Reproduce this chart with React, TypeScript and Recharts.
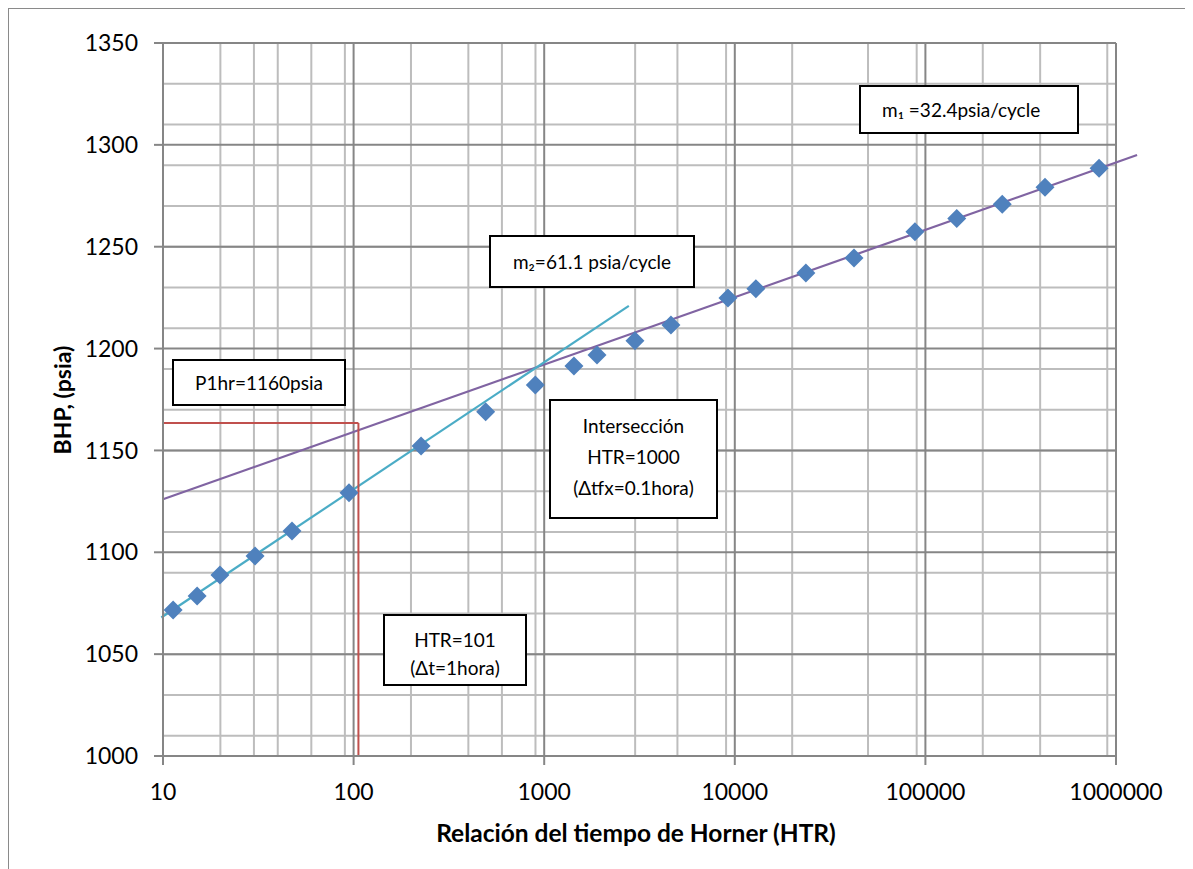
import { CartesianGrid, ReferenceLine, Scatter, ScatterChart, XAxis, YAxis } from 'recharts'

// Horner plot: ratio of times (HTR) vs bottom-hole pressure.
const HTR = [
  11.3, 15.1, 19.9, 30.4, 47.5, 94.6, 226, 493, 898, 1432, 1892, 2992, 4624, 9204, 12900, 23600,
  42200, 88100, 146000, 253000, 424000, 815000,
]
const BHP = [
  1071.7, 1078.5, 1088.8, 1098.2, 1110.4, 1129.2, 1152.2, 1169, 1182.1, 1191.4, 1196.8, 1203.9,
  1211.6, 1224.8, 1229.4, 1237.1, 1244.5, 1257.4, 1263.9, 1270.8, 1279.2, 1288.5,
]
const X_TICKS = [10, 100, 1000, 10000, 100000, 1000000]
const Y_TICKS = [1000, 1050, 1100, 1150, 1200, 1250, 1300, 1350]

// Straight-line fits drawn by hand on the original (ends).
const M1_LINE = [
  { x: 10, y: 1126 },
  { x: 1290000, y: 1295 },
]
const M2_LINE = [
  { x: 9.8, y: 1068 },
  { x: 2780, y: 1221 },
]
const P1HR = 1163.5
const HTR_1HR = 106

const FONT = 'Lato, "Open Sans", sans-serif'
const MAJOR = '#868686'
const MINOR = '#bdbdbd'
const TICK = { fill: '#000', fontSize: 23, fontFamily: FONT }

const points = HTR.map((x, i) => ({ x, y: BHP[i] }))
const minorX = X_TICKS.slice(0, -1).flatMap((d) => [2, 3, 4, 5, 6, 7, 8, 9].map((k) => k * d))
const minorY = Array.from({ length: 36 }, (_, i) => 1000 + i * 10)

function Diamond(props: any) {
  const { cx, cy } = props
  if (cx == null || cy == null) return <g />
  const r = 9.5
  return (
    <polygon
      points={`${cx},${cy - r} ${cx + r},${cy} ${cx},${cy + r} ${cx - r},${cy}`}
      fill="#4f81bd"
    />
  )
}

function Note({
  left,
  top,
  width,
  height,
  lines,
  align = 'center',
  lineHeight = 31,
  shift = 0,
}: {
  left: number
  top: number
  width: number
  height: number
  lines: string[]
  align?: 'center' | 'left'
  lineHeight?: number
  shift?: number
}) {
  return (
    <div
      style={{
        position: 'absolute',
        left,
        top,
        width,
        height,
        boxSizing: 'border-box',
        border: '2px solid #000',
        background: '#fff',
        overflow: 'hidden',
        display: 'flex',
        flexDirection: 'column',
        justifyContent: 'center',
        alignItems: align === 'center' ? 'center' : 'flex-start',
        paddingLeft: align === 'left' ? 21 : 0,
        fontFamily: FONT,
        fontSize: 19,
        lineHeight: `${lineHeight}px`,
        color: '#000',
      }}
    >
      <div style={{ transform: `translateY(${shift}px)`, textAlign: align, whiteSpace: 'nowrap' }}>
        {lines.map((l) => (
          <div key={l}>{l}</div>
        ))}
      </div>
    </div>
  )
}

export default function App() {
  return (
    <div
      style={{
        position: 'relative',
        width: 1180,
        height: 880,
        border: '1px solid #8a8a8a',
        boxSizing: 'border-box',
        background: '#fff',
      }}
    >
      <ScatterChart width={1178} height={878} margin={{ top: 34, right: 71, bottom: 71, left: 94 }}>
        <CartesianGrid
          stroke={MINOR}
          strokeWidth={2}
          verticalValues={minorX}
          horizontalValues={minorY}
        />
        <CartesianGrid
          stroke={MAJOR}
          strokeWidth={2}
          verticalValues={X_TICKS}
          horizontalValues={Y_TICKS}
        />
        <XAxis
          type="number"
          dataKey="x"
          scale="log"
          domain={[10, 1000000]}
          ticks={X_TICKS}
          allowDataOverflow
          height={60}
          tick={TICK}
          tickSize={9}
          tickMargin={19}
          stroke={MAJOR}
          strokeWidth={2}
        />
        <YAxis
          type="number"
          dataKey="y"
          domain={[1000, 1350]}
          ticks={Y_TICKS}
          allowDataOverflow
          width={60}
          tick={TICK}
          tickSize={9}
          tickMargin={16}
          stroke={MAJOR}
          strokeWidth={2}
        />
        <Scatter data={points} shape={Diamond} isAnimationActive={false} />
        <ReferenceLine
          segment={M1_LINE}
          stroke="#8064a2"
          strokeWidth={2.2}
          ifOverflow="visible"
        />
        <ReferenceLine
          segment={M2_LINE}
          stroke="#4bacc6"
          strokeWidth={2.2}
          ifOverflow="visible"
        />
        <ReferenceLine
          segment={[
            { x: 10, y: P1HR },
            { x: HTR_1HR, y: P1HR },
          ]}
          stroke="#c0504d"
          strokeWidth={2}
          ifOverflow="visible"
        />
        <ReferenceLine
          segment={[
            { x: HTR_1HR, y: P1HR },
            { x: HTR_1HR, y: 1000 },
          ]}
          stroke="#c0504d"
          strokeWidth={2}
          ifOverflow="visible"
        />
      </ScatterChart>

      <div
        style={{
          position: 'absolute',
          left: 53,
          top: 391,
          transform: 'translate(-50%, -50%) rotate(-90deg)',
          whiteSpace: 'nowrap',
          fontFamily: FONT,
          fontWeight: 700,
          fontSize: 23,
        }}
      >
        BHP, (psia)
      </div>
      <div
        style={{
          position: 'absolute',
          left: 627,
          top: 823,
          transform: 'translate(-50%, -50%)',
          whiteSpace: 'nowrap',
          fontFamily: FONT,
          fontWeight: 700,
          fontSize: 24.5,
        }}
      >
        Relación del tiempo de Horner (HTR)
      </div>

      <Note left={850} top={76} width={220} height={49} lines={['m₁ =32.4psia/cycle']} align="left" />
      <Note left={480} top={226} width={206} height={53} lines={['m₂=61.1 psia/cycle']} />
      <Note
        left={540}
        top={390}
        width={169}
        height={120}
        lines={['Intersección', 'HTR=1000', '(Δtfx=0.1hora)']}
        shift={-3}
      />
      <Note left={163} top={350} width={174} height={47} lines={['P1hr=1160psia']} />
      <Note
        left={374}
        top={605}
        width={144}
        height={72}
        lines={['HTR=101', '(Δt=1hora)']}
        lineHeight={28}
        shift={4}
      />
    </div>
  )
}
